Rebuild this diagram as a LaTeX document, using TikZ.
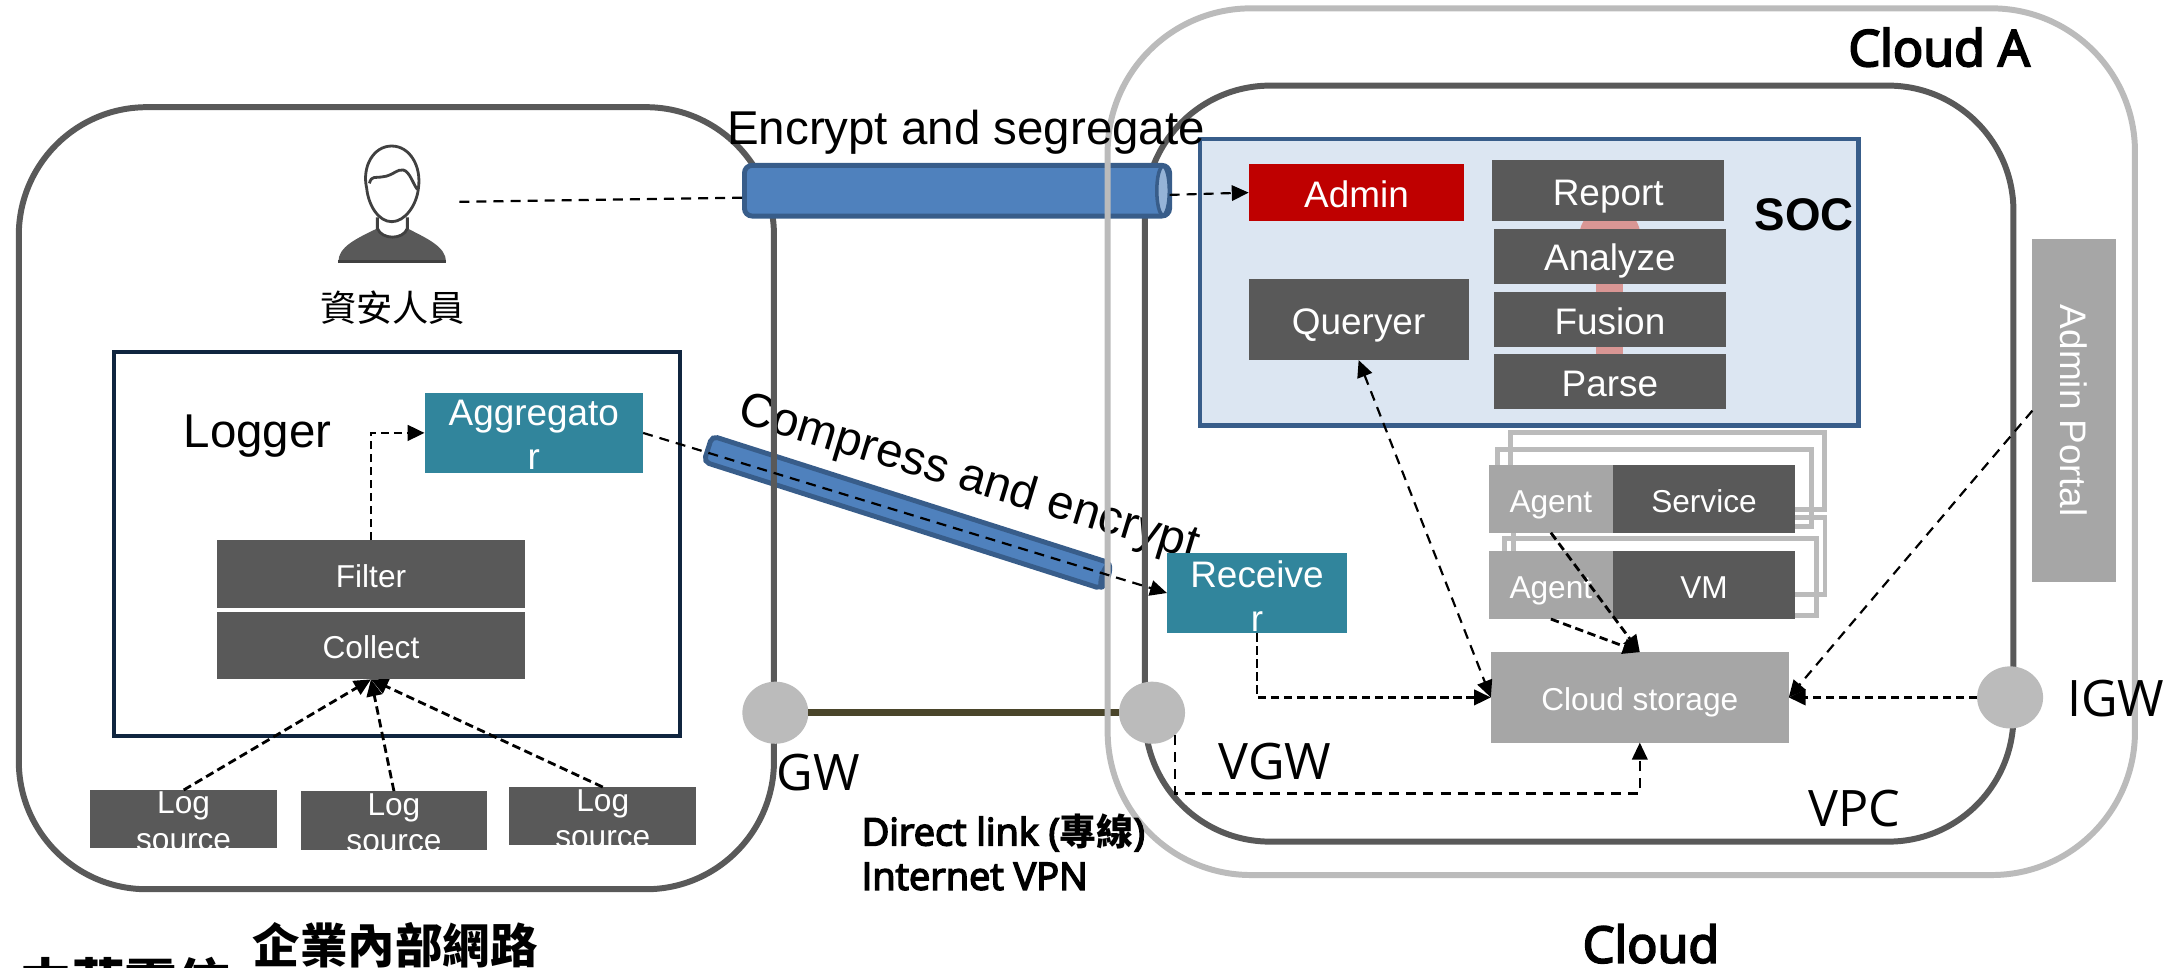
\documentclass[tikz,border=0pt]{standalone}
\usepackage{fontspec}
\setmainfont{Liberation Sans}
\newfontfamily\cjk{Noto Sans CJK TC}
\newfontfamily\seg{Open Sans}
\newfontfamily\segb[FakeBold=4]{Open Sans}
\usetikzlibrary{arrows.meta,calc,shapes.geometric}
\def\uu{0.01392cm}
\newcommand\bx[7]{\node[#1,minimum width={(#4-#3)*\uu},minimum height={(#6-#5)*\uu}] (#2) at ({(#3+#4)/2},{(#5+#6)/2}) {#7};}
\definecolor{darkbox}{HTML}{595959}
\definecolor{midbox}{HTML}{A6A6A6}
\definecolor{lightln}{HTML}{BBBBBB}
\definecolor{tealbox}{HTML}{31859C}
\definecolor{tubefill}{HTML}{4F81BD}
\definecolor{tubeln}{HTML}{385D8A}
\definecolor{socfill}{HTML}{DCE6F2}
\definecolor{pinkbar}{HTML}{D99694}
\definecolor{linkln}{HTML}{4A452A}
\definecolor{navyln}{HTML}{10253F}
\tikzset{
  x=0.01392cm,y=-0.01392cm,
  tipT/.tip={Triangle[length=4.8pt,width=4.4pt]},
  base/.style={inner sep=0pt,outer sep=0pt,align=center},
  txtXL/.style={base,font=\fontsize{13.5}{16}\selectfont},
  txtW/.style={base,text=white,font=\fontsize{10.5}{12.6}\selectfont},
  txtS/.style={base,text=white,font=\fontsize{9}{10.3}\selectfont},
  capW/.style={text height=8.2pt,text depth=0pt},
  capS/.style={text height=7.6pt,text depth=0pt},
  dkbig/.style={base,fill=darkbox,txtW,capW},
  dksmall/.style={base,fill=darkbox,txtS,capS},
  mdsmall/.style={base,fill=midbox,txtS,capS},
  tealb/.style={base,fill=tealbox},
  ring/.style={base,draw,line width=1.7pt,rounded corners={#1*\uu}},
  backring/.style={base,draw=lightln,line width=1.4pt},
  gate/.style={ellipse,base,fill=lightln,minimum width={47.4*\uu},minimum height={44.6*\uu}},
  tube/.style={base,draw=tubeln,fill=tubefill,line width=1.4pt},
  conn/.style={draw=black,line width=0.62pt,dash pattern=on 2.85pt off 2pt,-tipT},
  connp/.style={conn,-},
  connd/.style={conn,line width=0.8pt,dash pattern=on 2.4pt off 1.3pt},
  seglbl/.style={base,font=\fontsize{14.3}{16}\seg},
  segbold/.style={base,font=\fontsize{14.3}{16}\segb},
}
\begin{document}
\begin{tikzpicture}
\useasboundingbox (0,0) rectangle (1568.2,694.68);
% compress tube and its label lie under the network outlines
\node[tube,rounded corners={4*\uu},rotate=-17.7,minimum width={300*\uu},minimum height={19.5*\uu}] (tubeB) at (651.5,368.1) {};
\node[base,ellipse,fill=tubeln,rotate=-17.7,minimum width={8*\uu},minimum height={21*\uu}] (tubeBcap) at (794,413.6) {};
\node[txtXL,rotate=-16.8] (compT) at (696,344) {Compress and encrypt};
% outlines
\bx{ring=92,draw=darkbox}{lan}{13.5}{556}{77}{638.8}{}
\bx{ring=90,draw=darkbox}{vpc}{822.5}{1446.4}{61.5}{604.6}{}
% encrypt tube
\bx{tube,rounded corners={5.5*\uu}}{tubeA}{534.8}{840.2}{118.8}{155.2}{}
\node[base,ellipse,draw=tubeln,fill=tubefill!60!white,line width=1pt,minimum width={9*\uu},minimum height={35*\uu}] (tubeAcap) at (835.5,137) {};
% gateways and link
\node[gate] (gw) at (557,512) {};
\node[gate] (vgw) at (827.6,512) {};
\node[gate] (igw) at (1444,501) {};
\draw[linkln,line width=2.1pt] (gw) -- (vgw);
\bx{ring=103,draw=lightln}{cloudA}{795.7}{1533.7}{6}{628.6}{}
% Person
\begin{scope}[shift={(229.9,93.4)},xscale=.2395,yscale=.2395,line width=.8pt,draw=black!75]
  \fill[darkbox] (55,395) .. controls (55,350) and (110,325) .. (172,295) .. controls (185,330) and (250,330) .. (262,295) .. controls (320,325) and (378,350) .. (378,395) -- cycle;
  \draw (55,395) -- (378,395);
  \draw (172,262) -- (172,295) .. controls (185,330) and (250,330) .. (262,295) -- (262,262);
  \draw[fill=white] (140,175) .. controls (125,110) and (160,48) .. (215,48) .. controls (270,48) and (305,110) .. (295,175) .. controls (290,225) and (255,275) .. (215,275) .. controls (175,275) and (145,225) .. (140,175) -- cycle;
  \draw (148,160) .. controls (155,135) and (165,145) .. (190,140) .. controls (215,138) and (235,115) .. (250,120) .. controls (270,125) and (280,165) .. (292,178);
\end{scope}
\coordinate (personR) at (330,145);
\node[base,font=\fontsize{10.3}{12}\cjk] (personT) at (282,221) {資安人員};
% Logger
\bx{base,draw=navyln,line width=1.1pt}{logger}{82}{488.6}{252.6}{529}{}
\node[txtXL] (loggerT) at (185,313) {Logger};
\bx{tealb}{aggr}{305}{462}{282}{340}{}
\node[txtW] (aggrT) at (383.5,312.5) {Aggregato\\r};
\bx{dksmall}{filter}{156}{377}{388}{437}{Filter}
\bx{dksmall}{collect}{156}{377}{439.5}{488}{Collect}
\bx{dksmall}{logA}{65}{199}{567.5}{609}{}
\bx{dksmall}{logB}{216}{350}{568.3}{610.6}{}
\bx{dksmall}{logC}{366}{500}{565.4}{607}{}
\node[txtS] (logAT) at (131.9,590) {Log\\source};
\node[txtS] (logBT) at (283,591) {Log\\source};
\node[txtS] (logCT) at (433,588) {Log\\source};
% SOC
\bx{base,draw=tubeln,fill=socfill,line width=1.3pt}{soc}{862}{1335}{100}{305.5}{}
\node[base,font=\bfseries\fontsize{13}{15}\selectfont] (socT) at (1296,154) {SOC};
\fill[pinkbar] (1156.5,170) circle (22);
\fill[pinkbar] (1146.5,170) rectangle (1166,260);
\bx{txtW,capW,fill=red!75!black}{admin}{897}{1052}{118}{158.7}{Admin}
\bx{dkbig}{queryer}{897}{1055}{200.5}{258.7}{Queryer}
\bx{dkbig}{report}{1072}{1238.6}{115}{159}{Report}
\bx{dkbig}{analyze}{1073}{1240}{164.6}{204}{Analyze}
\bx{dkbig}{fusion}{1073}{1240}{210}{249.4}{Fusion}
\bx{dkbig}{parse}{1073}{1240}{254.4}{294}{Parse}
% stacked instances
\bx{backring}{svcBackA}{1085}{1310.6}{311}{366}{}
\bx{backring}{svcBackB}{1076}{1301.6}{323}{378}{}
\bx{backring}{vmBackA}{1087}{1311}{372}{427}{}
\bx{backring}{vmBackB}{1080.5}{1305}{386.6}{442}{}
\bx{mdsmall}{agentA}{1069.6}{1158.6}{334}{382.7}{Agent}
\bx{dksmall}{service}{1158.6}{1289.6}{334}{382.7}{Service}
\bx{mdsmall}{agentB}{1069.6}{1158.6}{395.8}{444.7}{Agent}
\bx{dksmall}{vm}{1158.6}{1289.6}{395.8}{444.7}{VM}
\bx{mdsmall}{cloudst}{1071}{1285}{468.5}{533.5}{Cloud storage}
\bx{tealb}{recv}{838.3}{967.6}{397}{455}{}
\node[txtW] (recvT) at (903,428) {Receive\\r};
\bx{txtW,fill=midbox}{portal}{1460}{1520}{172}{418}{}
\node[txtW,rotate=-90] (portalT) at (1490,295) {Admin Portal};
% connectors
\draw[connp] (personR) -- ($(tubeA.west)+(0,5)$);
\draw[conn] ($(tubeA.east)+(0,3)$) -- (admin.west);
\draw[conn] (aggr.east) -- (recv.west);
\draw[connd] (filter.north) |- (aggr.west);
\draw[connd] (logA.north) -- (collect.south);
\draw[connd] (logB.north) -- (collect.south);
\draw[connd] (logC.north) -- (collect.south);
\draw[connd] (recv.south) |- (cloudst.west);
\draw[conn,tipT-tipT] (queryer.south) -- (cloudst.west);
\draw[connd] (agentA.south) -- (cloudst.north);
\draw[connd] (agentB.south) -- (cloudst.north);
\draw[conn] (vgw.-45) |- ($(cloudst.south)+(0,36.5)$) -- (cloudst.south);
\draw[conn] (portal.west) -- (cloudst.east);
\draw[connd] (igw.west) -- (cloudst.east);
% labels
\node[txtXL] (encT) at (694,95) {Encrypt and segregate};
\node[segbold] (cloudAT) at (1393,34) {Cloud A};
\node[seglbl] (gwT) at (588,555) {GW};
\node[seglbl] (vgwT) at (916,547) {VGW};
\node[seglbl] (igwT) at (1520,502) {IGW};
\node[seglbl] (vpcT) at (1332,581) {VPC};
\node[segbold] (cloudT) at (1186,678) {Cloud};
\node[base,align=left,anchor=west,font=\fontsize{10.8}{12.6}\segb] (directT) at (619,612) {Direct link ({\fontsize{10.5}{12}\cjk\bfseries 專線})\\Internet VPN};
\node[base,font=\bfseries\fontsize{13.5}{15}\cjk] (lanT) at (284,679) {企業內部網路};
\node[base,anchor=base west,font=\bfseries\fontsize{15}{17}\cjk] (telT) at (14,720) {中華電信};
\end{tikzpicture}
\end{document}
